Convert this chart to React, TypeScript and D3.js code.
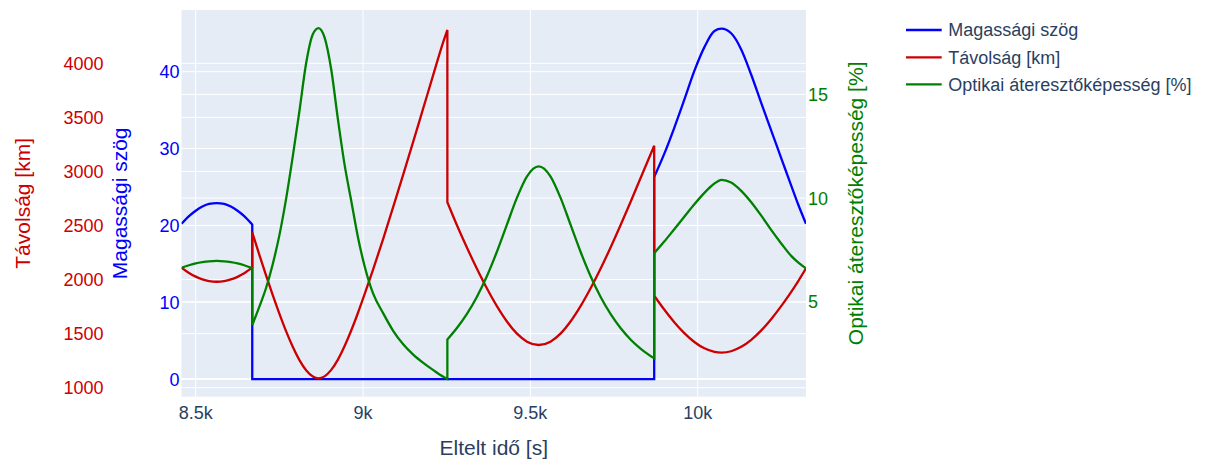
import React from 'react';
import * as d3 from 'd3';

// Elapsed time [s]; repeated instants mark the switch between passes
const time = [
  8457.6, 8480, 8500, 8520, 8540, 8563, 8585, 8605, 8625, 8645, 8669,
  8669, 8690, 8710, 8730, 8750, 8770, 8790, 8810, 8830, 8850, 8867, 8885, 8905, 8925, 8945, 8965, 8985, 9005, 9030, 9060, 9090, 9120, 9150, 9180, 9210, 9240, 9252,
  9252, 9280, 9310, 9340, 9370, 9400, 9430, 9460, 9490, 9525, 9560, 9590, 9620, 9650, 9680, 9710, 9740, 9770, 9800, 9830, 9870,
  9870, 9900, 9930, 9960, 9990, 10020, 10050, 10071, 10100, 10130, 10160, 10190, 10220, 10250, 10280, 10300, 10323.6,
];

// Elevation angle [deg]
const elevation = [
  20.2, 21.2, 21.9, 22.45, 22.8, 22.9, 22.8, 22.45, 21.9, 21.2, 20.1,
  0, 0, 0, 0, 0, 0, 0, 0, 0, 0, 0, 0, 0, 0, 0, 0, 0, 0, 0, 0, 0, 0, 0, 0, 0, 0, 0,
  0, 0, 0, 0, 0, 0, 0, 0, 0, 0, 0, 0, 0, 0, 0, 0, 0, 0, 0, 0, 0,
  26.3, 29.3, 32.7, 36.35, 40.1, 43.2, 45.3, 45.6, 45.0, 42.9, 39.6, 35.9, 32.3, 28.7, 25.1, 22.75, 20.2,
];

// Slant range [km]
const distance = [
  2110, 2061, 2027, 2002, 1986, 1980, 1986, 2001, 2025, 2058, 2112,
  2437, 2230, 2041, 1858, 1685, 1523, 1378, 1255, 1161, 1103, 1087, 1105, 1165, 1260, 1385, 1531, 1693, 1867, 2092, 2375, 2670, 2970, 3275, 3585, 3895, 4200, 4308,
  2715, 2507, 2299, 2102, 1919, 1754, 1612, 1500, 1426, 1395, 1426, 1500, 1612, 1754, 1919, 2102, 2299, 2507, 2722, 2944, 3238,
  1851, 1723, 1606, 1505, 1423, 1364, 1331, 1324, 1337, 1378, 1443, 1530, 1636, 1757, 1889, 1984, 2104,
];

// Optical transmittance [%]
const transmittance = [
  6.64, 6.76, 6.85, 6.91, 6.95, 6.97, 6.95, 6.91, 6.85, 6.76, 6.62,
  3.87, 4.75, 5.65, 6.8, 8.2, 9.95, 12.0, 14.2, 16.5, 17.9, 18.2, 17.75, 16.2, 13.8, 11.6, 9.85, 8.1, 6.7, 5.4, 4.45, 3.6, 2.95, 2.45, 2.05, 1.7, 1.38, 1.28,
  3.18, 3.72, 4.4, 5.23, 6.23, 7.41, 8.72, 10.02, 11.05, 11.53, 11.05, 10.02, 8.72, 7.41, 6.23, 5.23, 4.4, 3.72, 3.17, 2.73, 2.27,
  7.34, 7.9, 8.5, 9.1, 9.7, 10.25, 10.7, 10.88, 10.75, 10.35, 9.8, 9.15, 8.45, 7.8, 7.2, 6.9, 6.61,
];

const timeTicks = [8500, 9000, 9500, 10000];
const elevationTicks = [0, 10, 20, 30, 40];
const distanceTicks = [1000, 1500, 2000, 2500, 3000, 3500, 4000];
const transmittanceTicks = [5, 10, 15];

const seriesNames = ['Magassági szög', 'Távolság [km]', 'Optikai áteresztőképesség [%]'];

const FONT = '"Liberation Sans", Arial, sans-serif';
const TEXT = '#2a3f5f';
const BLUE = '#0000ff';
const RED = '#cc0000';
const GREEN = '#008000';

// Split the sample indices into passes wherever an instant repeats
const passes: number[][] = [];
time.forEach((t, i) => {
  if (i === 0 || t === time[i - 1]) passes.push([]);
  passes[passes.length - 1].push(i);
});

export default function App() {
  const W = 1205;
  const H = 465;
  const L = 181.5, R = 806, T = 10, B = 396.7;
  const midY = (T + B) / 2;

  const x = d3.scaleLinear().domain(d3.extent(time) as [number, number]).range([L, R]);
  const yElev = d3.scaleLinear().domain([-2.3, 48.03]).range([B, T]);
  const yDist = d3.scaleLinear().domain([916.8, 4493]).range([B, T]);
  const yTrans = d3.scaleLinear().domain([0.42, 19.07]).range([B, T]);

  // Smooth curve within each pass, straight vertical jump between passes
  const path = (vals: number[], y: d3.ScaleLinear<number, number>) => {
    const gen = d3
      .line<number>()
      .x((i) => x(time[i]))
      .y((i) => y(vals[i]))
      .curve(d3.curveMonotoneX);
    return passes
      .map((idx, k) => {
        const d = gen(idx) || '';
        return k === 0 ? d : 'L' + d.slice(1);
      })
      .join('');
  };

  const fmtK = (v: number) => `${v / 1000}k`;
  const tickSize = 18;
  const titleSize = 21;
  const lineW = 2.3;

  const grid = [
    ...elevationTicks.map((v) => yElev(v)),
    ...distanceTicks.map((v) => yDist(v)),
    ...transmittanceTicks.map((v) => yTrans(v)),
  ];

  const colors = [BLUE, RED, GREEN];
  const legendY = [30, 57.3, 84.3];

  return (
    <svg
      width={W}
      height={H}
      style={{ position: 'absolute', left: 0, top: 0, background: '#fff' }}
      fontFamily={FONT}
    >
      <defs>
        <clipPath id="plot-clip">
          <rect x={L} y={T} width={R - L} height={B - T} />
        </clipPath>
      </defs>
      <rect x={L} y={T} width={R - L} height={B - T} fill="#E5ECF6" />
      {timeTicks.map((v) => (
        <line key={`gx${v}`} x1={x(v)} x2={x(v)} y1={T} y2={B} stroke="#fff" strokeWidth={1} />
      ))}
      {grid.map((yy, i) => (
        <line key={`gy${i}`} x1={L} x2={R} y1={yy} y2={yy} stroke="#fff" strokeWidth={1} />
      ))}
      <line x1={L} x2={R} y1={yElev(0)} y2={yElev(0)} stroke="#fff" strokeWidth={2} />

      <g clipPath="url(#plot-clip)" fill="none" strokeWidth={lineW}>
        <path d={path(elevation, yElev)} stroke={BLUE} />
        <path d={path(distance, yDist)} stroke={RED} />
        <path d={path(transmittance, yTrans)} stroke={GREEN} />
      </g>

      {/* x axis */}
      {timeTicks.map((v) => (
        <text key={`tx${v}`} x={x(v)} y={418.5} textAnchor="middle" fontSize={tickSize} fill={TEXT}>
          {fmtK(v)}
        </text>
      ))}
      <text x={(L + R) / 2} y={454.5} textAnchor="middle" fontSize={titleSize} fill={TEXT}>
        Eltelt idő [s]
      </text>

      {/* elevation axis */}
      {elevationTicks.map((v) => (
        <text key={`te${v}`} x={179.5} y={yElev(v)} dy="0.36em" textAnchor="end" fontSize={tickSize} fill={BLUE}>
          {v}
        </text>
      ))}
      <text
        x={120}
        y={midY}
        transform={`rotate(-90, 120, ${midY})`}
        textAnchor="middle"
        dominantBaseline="central"
        fontSize={titleSize}
        fill={BLUE}
      >
        Magassági szög
      </text>

      {/* distance axis */}
      {distanceTicks.map((v) => (
        <text key={`td${v}`} x={103.5} y={yDist(v)} dy="0.36em" textAnchor="end" fontSize={tickSize} fill={RED}>
          {v}
        </text>
      ))}
      <text
        x={23}
        y={midY}
        transform={`rotate(-90, 23, ${midY})`}
        textAnchor="middle"
        dominantBaseline="central"
        fontSize={titleSize}
        fill={RED}
      >
        Távolság [km]
      </text>

      {/* transmittance axis */}
      {transmittanceTicks.map((v) => (
        <text key={`tt${v}`} x={808} y={yTrans(v)} dy="0.36em" textAnchor="start" fontSize={tickSize} fill={GREEN}>
          {v}
        </text>
      ))}
      <text
        x={855.5}
        y={midY}
        transform={`rotate(-90, 855.5, ${midY})`}
        textAnchor="middle"
        dominantBaseline="central"
        fontSize={titleSize}
        fill={GREEN}
      >
        Optikai áteresztőképesség [%]
      </text>

      {/* legend */}
      {seriesNames.map((name, i) => (
        <g key={name}>
          <line x1={906} x2={941.7} y1={legendY[i]} y2={legendY[i]} stroke={colors[i]} strokeWidth={lineW} />
          <text x={948.3} y={legendY[i]} dy="0.36em" fontSize={tickSize} fill={TEXT}>
            {name}
          </text>
        </g>
      ))}
    </svg>
  );
}
